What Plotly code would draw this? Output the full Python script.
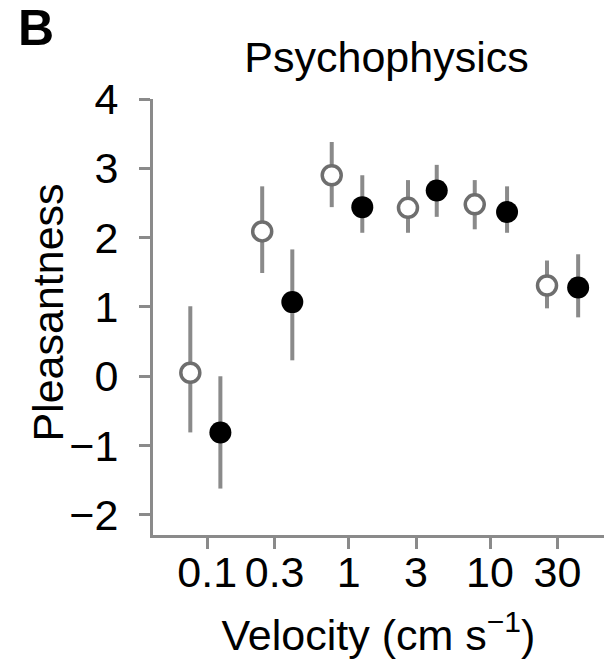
import plotly.graph_objects as go

# Data
tick_vals = [0.1, 0.3, 1, 3, 10, 30]
tick_text = ["0.1", "0.3", "1", "3", "10", "30"]

velocity_open = [0.076, 0.245, 0.76, 2.63, 7.8, 25.3]
open_mean = [0.05, 2.09, 2.90, 2.43, 2.48, 1.31]
open_upper = [1.01, 2.74, 3.38, 2.83, 2.83, 1.67]
open_lower = [-0.81, 1.49, 2.44, 2.07, 2.12, 0.98]

velocity_filled = [0.124, 0.40, 1.25, 4.2, 13.2, 42.0]
filled_mean = [-0.81, 1.07, 2.44, 2.68, 2.37, 1.28]
filled_upper = [0.00, 1.83, 2.90, 3.05, 2.74, 1.76]
filled_lower = [-1.62, 0.23, 2.07, 2.30, 2.07, 0.85]

FONT = "Liberation Sans, Arial, sans-serif"
GRAY = "#8a8a8a"

fig = go.Figure()

fig.add_trace(go.Scatter(
    x=velocity_open, y=open_mean, mode="markers",
    error_y=dict(type="data", symmetric=False,
                 array=[u - m for u, m in zip(open_upper, open_mean)],
                 arrayminus=[m - l for m, l in zip(open_mean, open_lower)],
                 color=GRAY, thickness=4, width=0),
    marker=dict(symbol="circle", size=19, color="white",
                line=dict(color="#6e6e6e", width=3.5)),
    showlegend=False, cliponaxis=False,
))

fig.add_trace(go.Scatter(
    x=velocity_filled, y=filled_mean, mode="markers",
    error_y=dict(type="data", symmetric=False,
                 array=[u - m for u, m in zip(filled_upper, filled_mean)],
                 arrayminus=[m - l for m, l in zip(filled_mean, filled_lower)],
                 color=GRAY, thickness=4, width=0),
    marker=dict(symbol="circle", size=22, color="black",
                line=dict(color="black", width=0)),
    showlegend=False, cliponaxis=False,
))

fig.update_layout(
    width=604, height=667,
    margin=dict(l=153, r=0, t=99, b=132),
    paper_bgcolor="white", plot_bgcolor="white",
    font=dict(family=FONT, size=44, color="black"),
    title=dict(text="Psychophysics", x=0.64, xanchor="center",
               y=0.915, yanchor="middle",
               font=dict(family=FONT, size=43, color="black")),
    annotations=[
        dict(text="<b>B</b>", x=-0.259, y=1.163, xref="paper", yref="paper",
             xanchor="center", yanchor="middle", showarrow=False,
             font=dict(family=FONT, size=50, color="black")),
        dict(text="Pleasantness", x=-0.233, y=0.51, xref="paper", yref="paper",
             xanchor="center", yanchor="middle", showarrow=False, textangle=-90,
             font=dict(family=FONT, size=43, color="black")),
    ],
)

fig.update_xaxes(
    type="log", range=[-1.383, 1.806],
    tickvals=tick_vals, ticktext=tick_text,
    showline=True, linecolor=GRAY, linewidth=3,
    ticks="outside", ticklen=11, tickwidth=3, tickcolor=GRAY,
    ticklabelstandoff=-14,
    showgrid=False, zeroline=False,
    tickfont=dict(family=FONT, size=43, color="black"),
    title=dict(text="Velocity (cm s<sup>−1</sup>)", standoff=26,
               font=dict(family=FONT, size=43, color="black")),
)

fig.update_yaxes(
    range=[-2.29, 4.0],
    tickvals=[-2, -1, 0, 1, 2, 3, 4],
    ticktext=["−2", "−1", "0", "1", "2", "3", "4"],
    showline=True, linecolor=GRAY, linewidth=3,
    ticks="outside", ticklen=11, tickwidth=3, tickcolor=GRAY,
    ticklabelstandoff=12,
    showgrid=False, zeroline=False,
    tickfont=dict(family=FONT, size=43, color="black"),
)

fig.write_html("out.html")
